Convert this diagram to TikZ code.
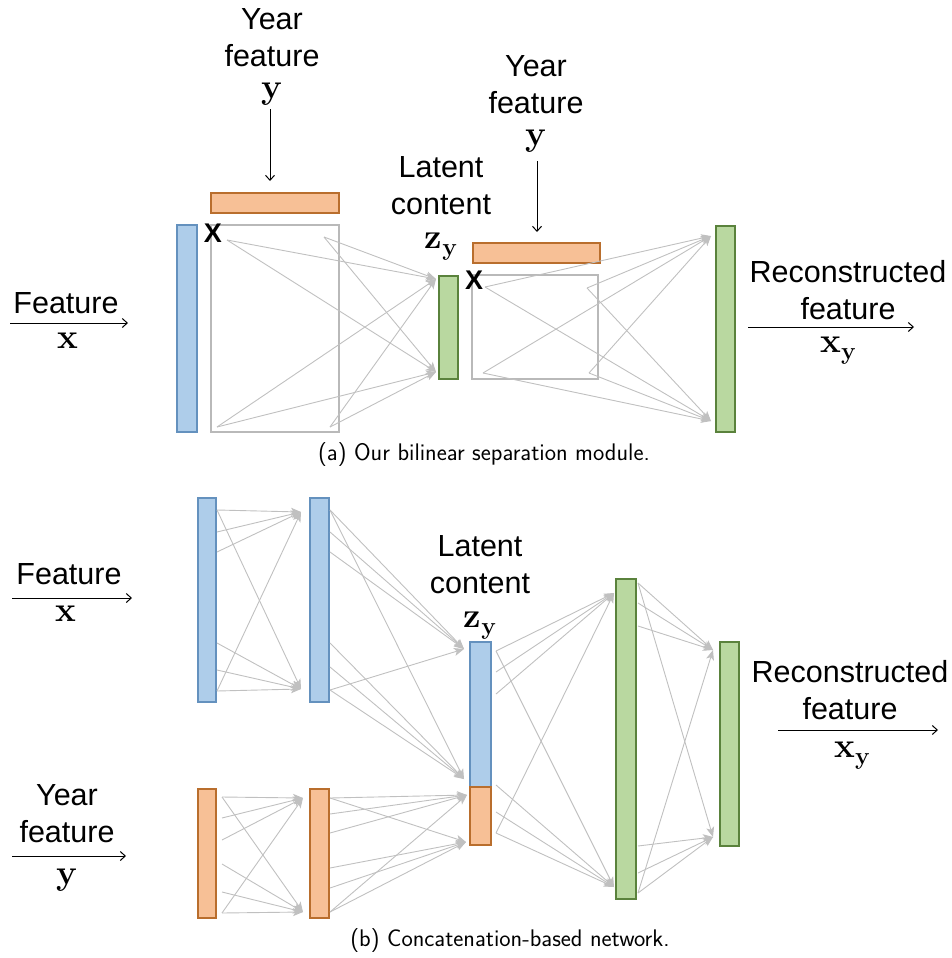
\documentclass[tikz,border=0pt]{standalone}
\usepackage{fontspec}
\newfontfamily\arial{Liberation Sans}
\usetikzlibrary{arrows.meta}
\newcommand{\SymX}{{\rmfamily\bfseries\fontsize{35}{37}\selectfont x}}
\newcommand{\SymY}{{\rmfamily\bfseries\fontsize{35}{37}\selectfont y}}
\newcommand{\SymZY}{{\rmfamily\bfseries\fontsize{35}{37}\selectfont z\raisebox{-7pt}{\fontsize{24.5}{25}\selectfont y}}}
\newcommand{\SymXY}{{\rmfamily\bfseries\fontsize{35}{37}\selectfont x\raisebox{-7pt}{\fontsize{24.5}{25}\selectfont y}}}
\definecolor{bfill}{RGB}{174,205,234}
\definecolor{bdraw}{RGB}{100,145,190}
\definecolor{ofill}{RGB}{247,192,150}
\definecolor{odraw}{RGB}{185,110,45}
\definecolor{gfill}{RGB}{185,216,160}
\definecolor{gdraw}{RGB}{90,130,60}
\definecolor{conn}{RGB}{192,192,192}
\definecolor{rectgray}{RGB}{185,185,185}
\tikzset{
  lab/.style={font=\arial\fontsize{30.5}{37}\selectfont, inner sep=0pt, align=center},
  captxt/.style={font=\sffamily\fontsize{24}{27}\selectfont, inner sep=0pt},
  xmark/.style={font=\arial\bfseries\fontsize{27}{30}\selectfont, inner sep=0pt},
  barbase/.style={line width=1.1pt, inner sep=0pt, outer sep=0pt, anchor=north west, rectangle},
  bbar/.style={barbase, draw=bdraw, fill=bfill},
  obar/.style={barbase, draw=odraw, fill=ofill},
  gbar/.style={barbase, draw=gdraw, fill=gfill},
  grect/.style={barbase, draw=rectgray},
  fc/.style={draw=conn, line width=0.9pt, -{Stealth[length=10pt,width=8pt,inset=2.5pt]}},
  arr/.style={draw=black, line width=1pt, -{Straight Barb[length=5pt,width=9pt]}},
}
\begin{document}
\begin{tikzpicture}[x=1pt,y=-1pt]
\useasboundingbox (0,0) rectangle (952,958);

% ================= (a) =================
\node[bbar, minimum width=20pt, minimum height=207pt] (A1) at (177,225) {};
\node[obar, minimum width=128pt, minimum height=20pt] (YA1) at (211,193) {};
\node[grect, minimum width=128pt, minimum height=207pt] (RA1) at (211,225) {};
\node[gbar, minimum width=19pt, minimum height=103pt] (ZA) at (439,276) {};
\node[obar, minimum width=127pt, minimum height=20pt] (YA2) at (473,243) {};
\node[grect, minimum width=126pt, minimum height=104pt] (RA2) at (472,275) {};
\node[gbar, minimum width=19pt, minimum height=206pt] (OA) at (716,226) {};

\node[xmark] (XA1) at (213,233) {X};
\node[xmark] (XA2) at (474,280) {X};

% bilinear connections stage 1
\coordinate (a1s1) at (227,240);
\coordinate (a1s2) at (324,237);
\coordinate (a1s3) at (217,427);
\coordinate (a1s4) at (330,427);
\coordinate (a1T) at (436,279);
\coordinate (a1B) at (436,372);
\foreach \s in {1,2,3,4} {\draw[fc] (a1s\s) -- (a1T); \draw[fc] (a1s\s) -- (a1B);}
% stage 2
\coordinate (a2s1) at (485,287);
\coordinate (a2s2) at (587,288);
\coordinate (a2s3) at (483,373);
\coordinate (a2s4) at (589,373);
\coordinate (a2T) at (711,236);
\coordinate (a2B) at (711,421);
\foreach \s in {1,2,3,4} {\draw[fc] (a2s\s) -- (a2T); \draw[fc] (a2s\s) -- (a2B);}

% labels (a)
\node[lab, anchor=north] (yA1) at (272,8) {Year\\feature\\[-5pt]\SymY};
\coordinate (yA1s) at (270,109);
\coordinate (yA1e) at (270,181);
\draw[arr] (yA1s) -- (yA1e);
\node[lab, anchor=north] (yA2) at (536,55) {Year\\feature\\[-5pt]\SymY};
\coordinate (yA2s) at (537,161);
\coordinate (yA2e) at (537,232);
\draw[arr] (yA2s) -- (yA2e);
\node[lab, anchor=north] (latA) at (441,156) {Latent\\content\\[-3pt]\SymZY};

\coordinate (inAs) at (10,323);
\coordinate (inAe) at (128,323);
\draw[arr] (inAs) -- (inAe);
\node[lab, anchor=base] (featA) at (66,313) {Feature};
\node[lab, anchor=base] (xA) at (68,348) {\SymX};

\coordinate (outAs) at (748,327);
\coordinate (outAe) at (914,327);
\draw[arr] (outAs) -- (outAe);
\node[lab, anchor=north] (recA) at (848,260) {Reconstructed\\feature};
\node[lab, anchor=base] (xyA) at (838,352) {\SymXY};

\node[captxt] (capA) at (484,455) {(a) Our bilinear separation module.};

% ================= (b) =================
\node[bbar, minimum width=18pt, minimum height=204pt] (B1) at (198,498) {};
\node[bbar, minimum width=19pt, minimum height=204pt] (B2) at (310,498) {};
\node[obar, minimum width=18pt, minimum height=129pt] (C1) at (198,789) {};
\node[obar, minimum width=19pt, minimum height=129pt] (C2) at (310,789) {};
\node[bbar, minimum width=21pt, minimum height=145pt] (ZB) at (470,642) {};
\node[obar, minimum width=21pt, minimum height=58pt] (ZO) at (470,787) {};
\node[gbar, minimum width=20pt, minimum height=320pt] (G1) at (616,579) {};
\node[gbar, minimum width=19pt, minimum height=204pt] (G2) at (720,642) {};

% fan connections
\foreach \y [count=\i] in {510,532,552,643,670,691} \coordinate (u1s\i) at (217,\y);
\coordinate (u1T) at (301,512);
\coordinate (u1B) at (301,689);
\foreach \y [count=\i] in {510,532,552,643,667,690} \coordinate (u2s\i) at (330,\y);
\coordinate (u2T) at (464,649);
\coordinate (u2B) at (464,779);
\foreach \y [count=\i] in {797,818,840,864,892,913} \coordinate (o1s\i) at (222,\y);
\coordinate (o1T) at (303,798);
\coordinate (o1B) at (303,912);
\foreach \y [count=\i] in {798,814,833,868,888,912} \coordinate (o2s\i) at (330,\y);
\coordinate (o2T) at (467,795);
\coordinate (o2B) at (466,842);
\foreach \y [count=\i] in {651,672,694,785,812,833} \coordinate (c3s\i) at (496,\y);
\coordinate (c3T) at (614,593);
\coordinate (c3B) at (614,887);
\foreach \y [count=\i] in {583,603,626,846,873,893} \coordinate (g4s\i) at (638,\y);
\coordinate (g4T) at (713,650);
\coordinate (g4B) at (713,837);
\foreach \p in {u1,u2,o1,o2,c3,g4} {
  \foreach \s/\t in {1/T,1/B,2/T,3/T,4/B,5/B,6/B,6/T}
    \draw[fc] (\p s\s) -- (\p\t);
}

% labels (b)
\coordinate (inBs) at (12,598);
\coordinate (inBe) at (132,598);
\draw[arr] (inBs) -- (inBe);
\node[lab, anchor=base] (featB) at (69,584) {Feature};
\node[lab, anchor=base] (xB) at (66,621) {\SymX};

\coordinate (inYs) at (12,856);
\coordinate (inYe) at (126,856);
\draw[arr] (inYs) -- (inYe);
\node[lab, anchor=north] (yB) at (67,784) {Year\\feature};
\node[lab, anchor=base] (yyB) at (67,884) {\SymY};

\node[lab, anchor=north] (latB) at (480,535) {Latent\\content\\[-3pt]\SymZY};

\coordinate (outBs) at (778,730);
\coordinate (outBe) at (938,730);
\draw[arr] (outBs) -- (outBe);
\node[lab, anchor=north] (recB) at (850,660) {Reconstructed\\feature};
\node[lab, anchor=base] (xyB) at (852,757) {\SymXY};

\node[captxt] (capB) at (510,941) {(b) Concatenation-based network.};
\end{tikzpicture}
\end{document}
